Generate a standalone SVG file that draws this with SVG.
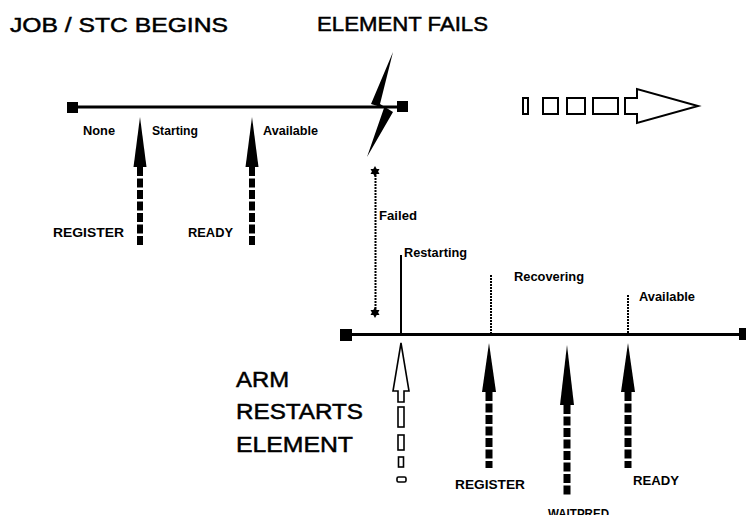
<svg xmlns="http://www.w3.org/2000/svg" width="746" height="515" viewBox="0 0 746 515">
<style>
.title{font-family:"Liberation Sans",Arial,sans-serif;font-size:21px;fill:#000;stroke:#000;stroke-width:0.5}
.big{font-family:"Liberation Sans",Arial,sans-serif;font-size:22px;fill:#000;stroke:#000;stroke-width:0.5}
.lbl{font-family:"Liberation Sans",Arial,sans-serif;font-size:12px;font-weight:bold;fill:#000}
.ev{font-family:"Liberation Sans",Arial,sans-serif;font-size:13px;font-weight:bold;fill:#000}
.line{stroke:#000;stroke-width:3;fill:none}
.dot{stroke:#000;stroke-width:2;stroke-dasharray:2 1;fill:none}
.shaft{stroke:#000;stroke-dasharray:9 2.5;fill:none}
.head{fill:#000;stroke:none}
.hollow{fill:#fff;stroke:#000;stroke-width:1.6}
</style>
<rect width="746" height="515" fill="#fff"/>

<g id="titles">
<text class="title" x="10" y="32" textLength="218" lengthAdjust="spacingAndGlyphs">JOB / STC BEGINS</text>
<text class="title" x="317" y="31" textLength="171" lengthAdjust="spacingAndGlyphs">ELEMENT FAILS</text>
<text class="big" x="236" y="387" textLength="53" lengthAdjust="spacingAndGlyphs">ARM</text>
<text class="big" x="236" y="419" textLength="127" lengthAdjust="spacingAndGlyphs">RESTARTS</text>
<text class="big" x="236" y="452" textLength="117" lengthAdjust="spacingAndGlyphs">ELEMENT</text>
</g>

<g id="timeline-top">
<line class="line" x1="72" y1="107" x2="402" y2="107"/>
<rect x="67" y="102" width="11" height="11" fill="#000"/>
<rect x="397" y="101" width="11" height="11" fill="#000"/>
<text class="lbl" x="83" y="135" textLength="32" lengthAdjust="spacingAndGlyphs">None</text>
<text class="lbl" x="152" y="135" textLength="46" lengthAdjust="spacingAndGlyphs">Starting</text>
<text class="lbl" x="263" y="135" textLength="55" lengthAdjust="spacingAndGlyphs">Available</text>
</g>

<g id="lightning">
<polygon points="393,52 371,104 384,108 367,157 393,112 380,104" fill="#000"/>
</g>

<g id="failed">
<polygon points="375,166 379.5,174 370.5,174" fill="#000"/>
<polygon points="375,177 379.5,169 370.5,169" fill="#000"/>
<polygon points="375,307 379.5,315 370.5,315" fill="#000"/>
<polygon points="375,318 379.5,310 370.5,310" fill="#000"/>
<line class="dot" x1="375.5" y1="175" x2="375.5" y2="309"/>
<text class="lbl" x="379" y="220" textLength="38" lengthAdjust="spacingAndGlyphs">Failed</text>
</g>

<g id="flow-arrow">
<rect x="523" y="98" width="5" height="16" fill="#fff" stroke="#000" stroke-width="2"/>
<rect x="543" y="98" width="15" height="16" fill="#fff" stroke="#000" stroke-width="2"/>
<rect x="567" y="98" width="18" height="16" fill="#fff" stroke="#000" stroke-width="2"/>
<rect x="593" y="98" width="25" height="16" fill="#fff" stroke="#000" stroke-width="2"/>
<polygon points="625,98 637,98 637,89 698,106 637,123 637,114 625,114" fill="#fff" stroke="#000" stroke-width="2"/>
</g>

<g id="timeline-bottom">
<line class="line" x1="346" y1="334.5" x2="742" y2="334.5"/>
<rect x="340" y="329" width="12" height="12" fill="#000"/>
<rect x="739" y="328" width="11" height="12" fill="#000"/>
<line x1="401" y1="255" x2="401" y2="334" stroke="#000" stroke-width="2"/>
<text class="lbl" x="404" y="257" textLength="63" lengthAdjust="spacingAndGlyphs">Restarting</text>
<line class="dot" x1="491" y1="275" x2="491" y2="334"/>
<text class="lbl" x="514" y="281" textLength="70" lengthAdjust="spacingAndGlyphs">Recovering</text>
<line class="dot" x1="628" y1="295" x2="628" y2="333"/>
<text class="lbl" x="639" y="301" textLength="56" lengthAdjust="spacingAndGlyphs">Available</text>
</g>

<g id="connectors">
<g id="register-top">
<polygon class="head" points="140,117 133.5,167 146.5,167"/>
<line class="shaft" x1="140" y1="167" x2="140" y2="245" stroke-width="6"/>
<text class="ev" x="53" y="237" textLength="71" lengthAdjust="spacingAndGlyphs">REGISTER</text>
</g>
<g id="ready-top">
<polygon class="head" points="252,117 245.5,167 258.5,167"/>
<line class="shaft" x1="252" y1="167" x2="252" y2="245" stroke-width="6"/>
<text class="ev" x="188" y="237" textLength="45" lengthAdjust="spacingAndGlyphs">READY</text>
</g>
<g id="arm-restart">
<polygon class="hollow" points="401,343 393,391 398,391 398,402 404,402 404,391 409,391"/>
<rect class="hollow" x="398" y="407" width="6" height="20"/>
<rect class="hollow" x="398" y="435" width="6" height="15"/>
<rect class="hollow" x="398.5" y="457" width="5" height="10"/>
<rect class="hollow" x="397" y="477" width="9" height="5" rx="1.5"/>
</g>
<g id="register-bottom">
<polygon class="head" points="489,343 482,392 496,392"/>
<line class="shaft" x1="489" y1="392" x2="489" y2="468" stroke-width="7"/>
<text class="ev" x="455" y="489" textLength="70" lengthAdjust="spacingAndGlyphs">REGISTER</text>
</g>
<g id="waitpred">
<polygon class="head" points="567,345 560,405 574,405"/>
<line class="shaft" x1="567" y1="405" x2="567" y2="497" stroke-width="7"/>
<text class="ev" x="548" y="518" textLength="61" lengthAdjust="spacingAndGlyphs">WAITPRED</text>
</g>
<g id="ready-bottom">
<polygon class="head" points="628,343 621,392 635,392"/>
<line class="shaft" x1="628" y1="392" x2="628" y2="468" stroke-width="7"/>
<text class="ev" x="633" y="485" textLength="46" lengthAdjust="spacingAndGlyphs">READY</text>
</g>
</g>
</svg>
